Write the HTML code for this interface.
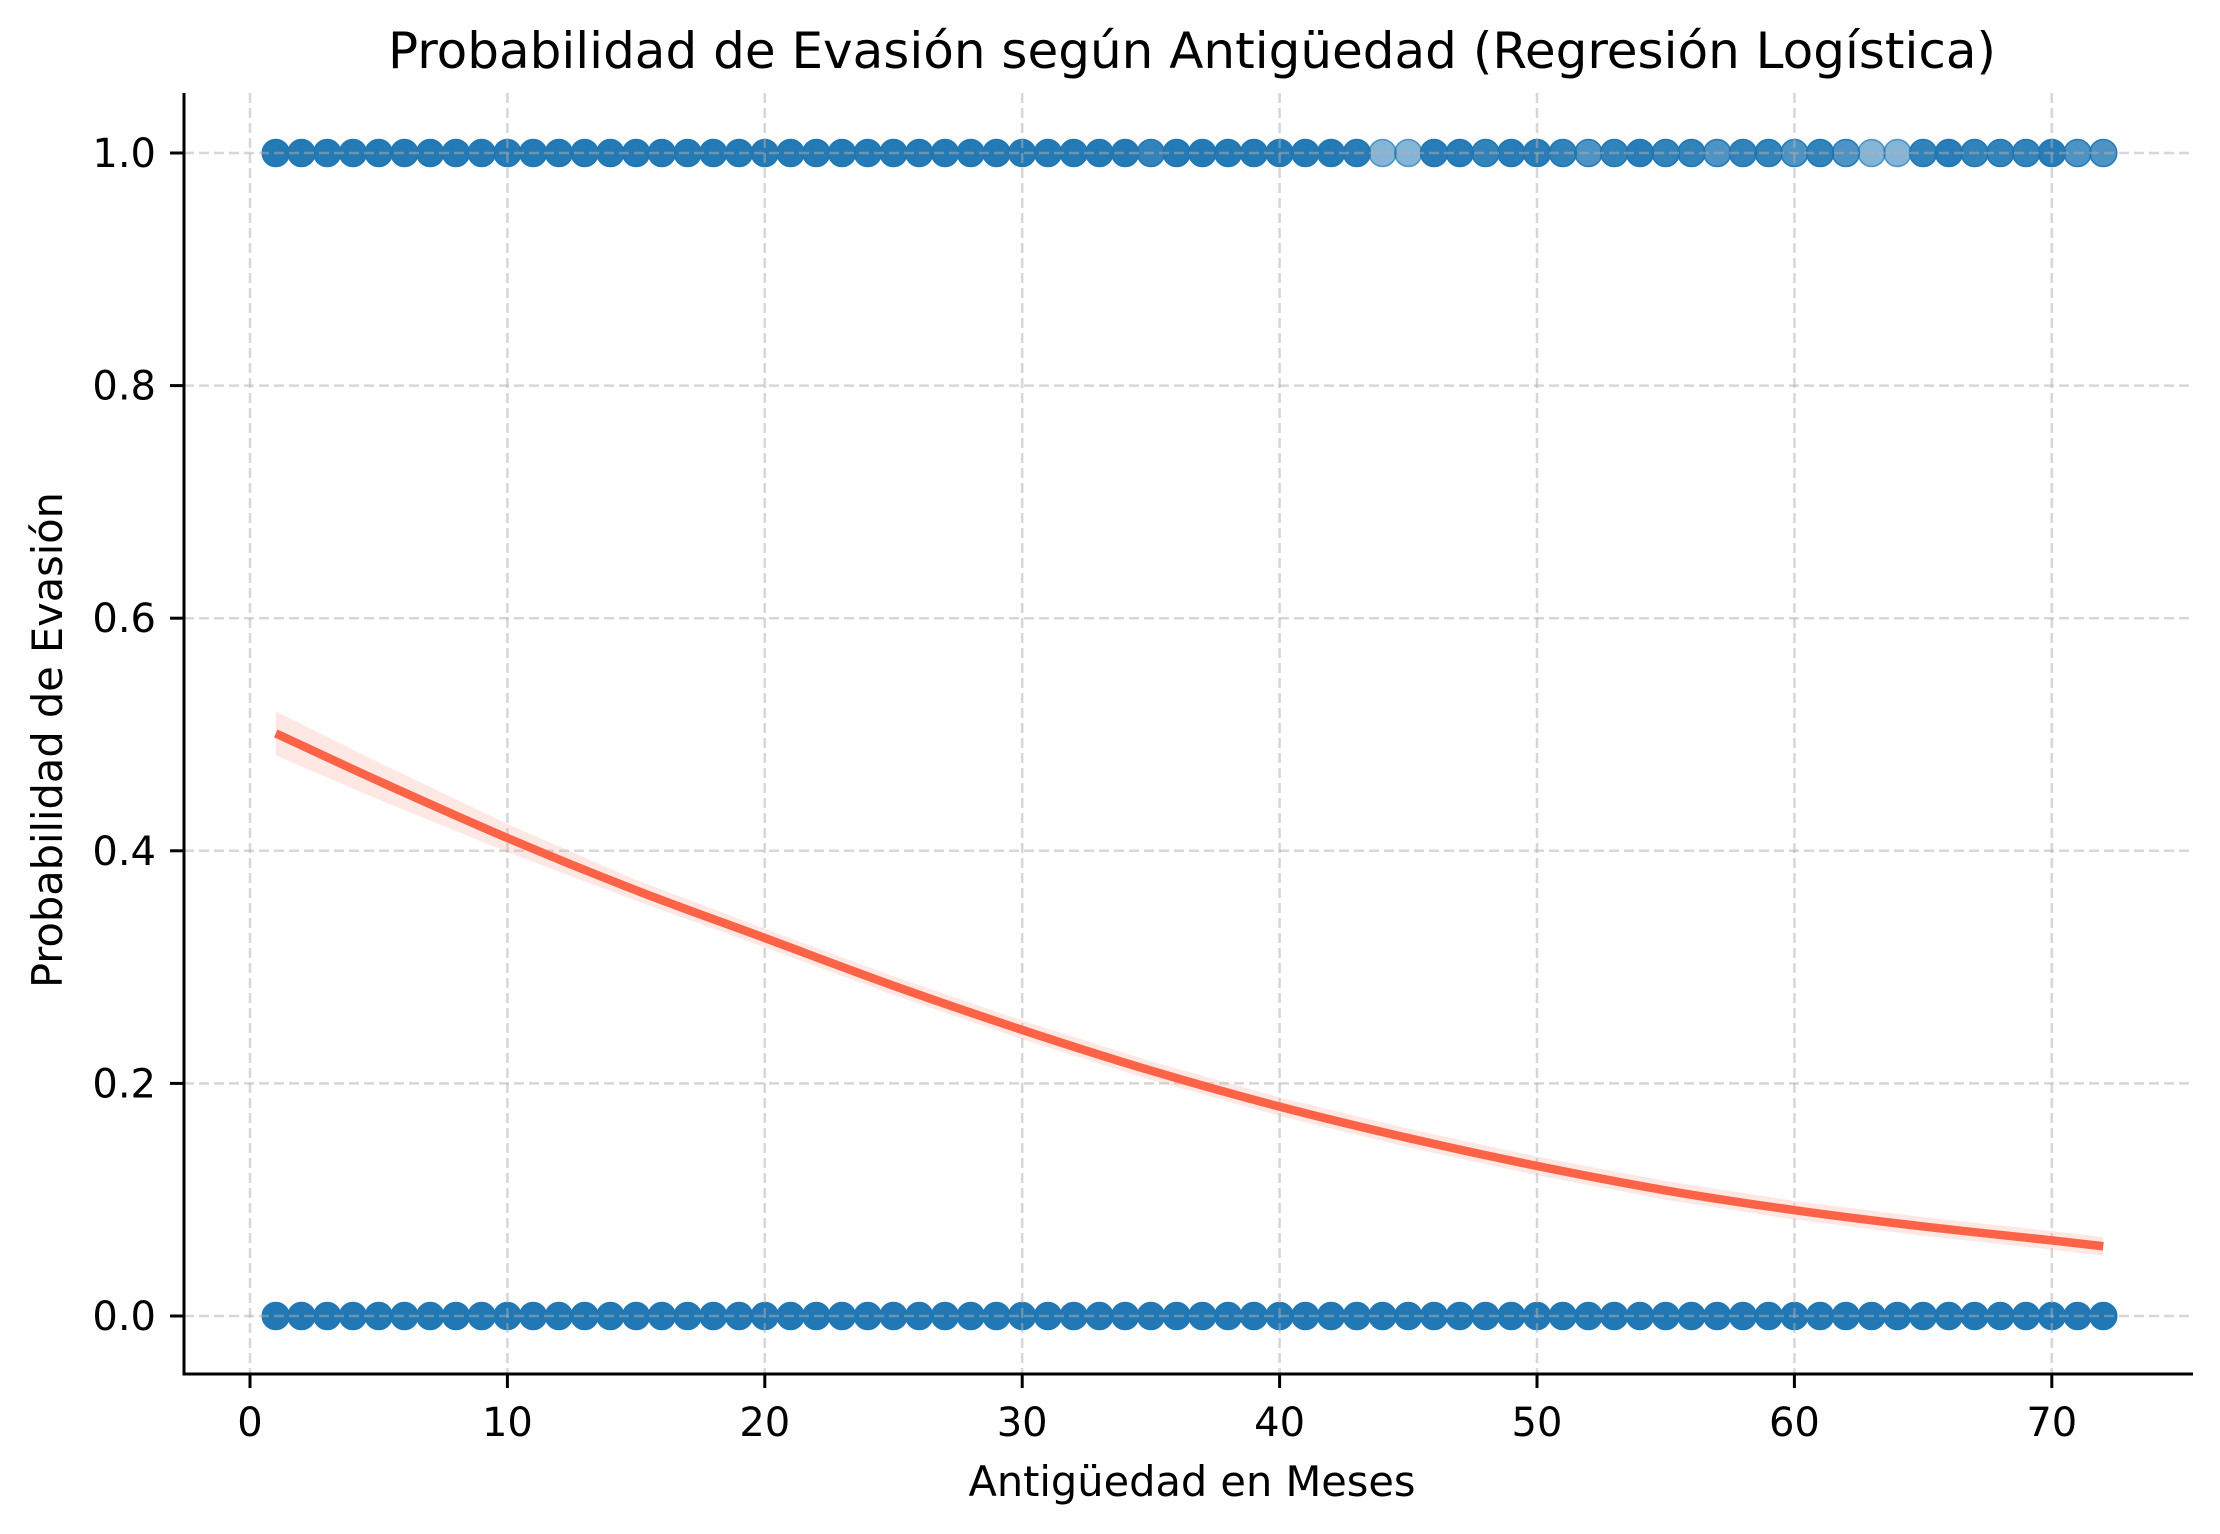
<!DOCTYPE html>
<html><head><meta charset="utf-8"><style>
html,body{margin:0;padding:0;background:#fff;}
svg{display:block;font-family:"DejaVu Sans","Liberation Sans",sans-serif;}
</style></head><body>
<svg id="chart" width="2220" height="1534" viewBox="0 0 2220 1534" xmlns="http://www.w3.org/2000/svg">
<g id="band"></g>
<g id="pts"></g>
<g id="gridTop"></g>
<g id="curve"></g>
<g id="axes"></g>
<text x="1192" y="68" font-size="50" text-anchor="middle">Probabilidad de Evasión según Antigüedad (Regresión Logística)</text>
<text x="1192" y="1496" font-size="41.5" text-anchor="middle">Antigüedad en Meses</text>
<text transform="translate(62,740) rotate(-90)" font-size="41.5" text-anchor="middle">Probabilidad de Evasión</text>
</svg>
<script>
const xTicks = [0,10,20,30,40,50,60,70];
const yTicks = [0.0,0.2,0.4,0.6,0.8,1.0];
const yTickLabels = ["0.0","0.2","0.4","0.6","0.8","1.0"];
const curveMonths = [1,5,10,15,20,25,30,35,40,45,50,55,60,65,70,72];
const curveProb = [0.501,0.460,0.411,0.366,0.325,0.284,0.246,0.211,0.180,0.153,0.129,0.108,0.091,0.077,0.065,0.060];
const bandHalf = [0.019,0.016,0.012,0.009,0.008,0.008,0.008,0.008,0.008,0.008,0.008,0.008,0.008,0.008,0.008,0.008];
const months = Array.from({length:72},(_,i)=>i+1);
const churnCounts = [5,5,5,5,5,5,5,5,5,5,5,5,5,5,5,5,5,5,5,5,5,5,5,5,5,5,5,5,5,5,5,5,5,5,3,5,5,5,5,5,5,5,4,1,1,4,4,3,4,4,3,2,3,4,3,3,2,3,3,2,3,2,1,1,3,4,3,3,3,4,2,2];
const stayCounts = months.map(()=>6);

const NS="http://www.w3.org/2000/svg";
const X0=184,X1=2193,Y0=93,Y1=1374;
const xs=v=>250+v*25.74;
const ys=v=>1316-v*1163;
function mk(tag,attrs,parent){const e=document.createElementNS(NS,tag);for(const k in attrs)e.setAttribute(k,attrs[k]);parent.appendChild(e);return e;}
const gridTop=document.getElementById('gridTop');
xTicks.forEach(t=>{const l=mk('line',{x1:xs(t),x2:xs(t),y1:Y0,y2:Y1,stroke:'#b0b0b0','stroke-opacity':0.5,'stroke-width':2.5,'stroke-dasharray':'10 5'},gridTop);
  
  });
yTicks.forEach(t=>{const l=mk('line',{x1:X0,x2:X1,y1:ys(t),y2:ys(t),stroke:'#b0b0b0','stroke-opacity':0.5,'stroke-width':2.5,'stroke-dasharray':'10 5'},gridTop);
  
  });
const pts=document.getElementById('pts');
months.forEach((m,i)=>{
  [[1,churnCounts[i]],[0,stayCounts[i]]].forEach(([yv,c])=>{
    const a=1-Math.pow(0.45,c);
    const p=mk('circle',{cx:xs(m),cy:ys(yv),r:13.5,fill:'#1f77b4','fill-opacity':a,stroke:'#1f77b4','stroke-opacity':Math.min(1,a+0.15),'stroke-width':1.5},pts);
    
    
  });
});
function smooth(P){let d='M'+P[0][0]+','+P[0][1];
  for(let i=0;i<P.length-1;i++){const p0=P[Math.max(0,i-1)],p1=P[i],p2=P[i+1],p3=P[Math.min(P.length-1,i+2)];
    d+=' C'+(p1[0]+(p2[0]-p0[0])/6)+','+(p1[1]+(p2[1]-p0[1])/6)+' '+(p2[0]-(p3[0]-p1[0])/6)+','+(p2[1]-(p3[1]-p1[1])/6)+' '+p2[0]+','+p2[1];}
  return d;}
const up=curveMonths.map((m,i)=>[xs(m),ys(curveProb[i]+bandHalf[i])]);
const lo=curveMonths.map((m,i)=>[xs(m),ys(curveProb[i]-bandHalf[i])]).reverse();
const bp=mk('polygon',{points:up.concat(lo).map(p=>p.join(',')).join(' '),fill:'#ff6347','fill-opacity':0.15},document.getElementById('band'));


const cl=mk('path',{d:smooth(curveMonths.map((m,i)=>[xs(m),ys(curveProb[i])])),fill:'none',stroke:'#ff6347','stroke-width':8.5},document.getElementById('curve'));


const ax=document.getElementById('axes');
const ls=mk('line',{x1:X0,x2:X0,y1:Y0,y2:Y1+1.5,stroke:'#000','stroke-width':3},ax);


const bs=mk('line',{x1:X0-1.5,x2:X1,y1:Y1,y2:Y1,stroke:'#000','stroke-width':3},ax);


xTicks.forEach(t=>{
  const tk=mk('line',{x1:xs(t),x2:xs(t),y1:Y1,y2:Y1+14,stroke:'#000','stroke-width':3},ax);
  
  
  const tx=mk('text',{x:xs(t),y:Y1+62,'font-size':40,'text-anchor':'middle'},ax);
  tx.textContent=String(t);
  
  
});
yTicks.forEach((t,i)=>{
  const tk=mk('line',{x1:X0-14,x2:X0,y1:ys(t),y2:ys(t),stroke:'#000','stroke-width':3},ax);
  
  
  const tx=mk('text',{x:X0-28,y:ys(t)+14,'font-size':40,'text-anchor':'end'},ax);
  tx.textContent=yTickLabels[i];
  
  
});
</script>
</body></html>
